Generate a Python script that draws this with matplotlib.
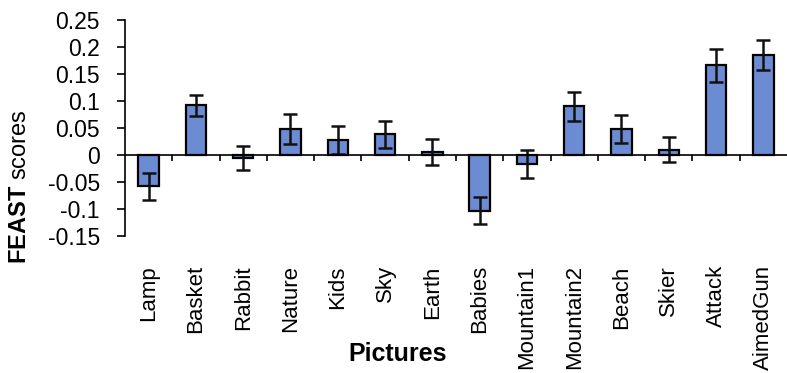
import numpy as np
import matplotlib.pyplot as plt

plt.rcParams['font.family'] = ['Liberation Sans', 'DejaVu Sans']
plt.rcParams['mathtext.fontset'] = 'custom'
plt.rcParams['mathtext.bf'] = 'Liberation Sans:bold'
plt.rcParams['mathtext.rm'] = 'Liberation Sans'

pictures = ['Lamp', 'Basket', 'Rabbit', 'Nature', 'Kids', 'Sky', 'Earth',
            'Babies', 'Mountain1', 'Mountain2', 'Beach', 'Skier', 'Attack',
            'AimedGun']
scores = [-0.058, 0.092, -0.006, 0.048, 0.028, 0.038, 0.005,
          -0.103, -0.016, 0.090, 0.048, 0.010, 0.166, 0.185]
errors = [0.025, 0.019, 0.022, 0.027, 0.026, 0.025, 0.024,
          0.025, 0.026, 0.027, 0.026, 0.023, 0.030, 0.028]
yticks = [-0.15, -0.1, -0.05, 0, 0.05, 0.1, 0.15, 0.2, 0.25]

fig = plt.figure(figsize=(7.87, 3.73), dpi=100)
ax = fig.add_axes([0.1588, 0.3673, 0.8412, 0.5791])

x = np.arange(len(pictures))
ax.bar(x, scores, width=0.43, color='#6b8bd3', edgecolor='black',
       linewidth=1.6, zorder=2)
ax.errorbar(x, scores, yerr=errors, fmt='none', ecolor='#111111',
            elinewidth=1.8, capsize=5, capthick=1.8, zorder=3)

# zero line with small ticks between categories
ax.axhline(0, color='black', linewidth=1.2, zorder=4)
ax.vlines(x[:-1] + 0.5, -0.011, 0, color='black', linewidth=1.2, zorder=4)

ax.set_xlim(-0.5, len(pictures) - 0.5)
ax.set_ylim(-0.15, 0.25)
ax.set_yticks(yticks)
ax.set_yticklabels([f'{v:g}' for v in yticks], fontsize=16.5)
ax.tick_params(axis='y', length=6, width=1.2, pad=12)

ax.set_xticks(x)
ax.set_xticklabels(pictures, rotation=90, fontsize=16)
ax.tick_params(axis='x', length=0, pad=21)

for s in ['top', 'right', 'bottom']:
    ax.spines[s].set_visible(False)
ax.spines['left'].set_linewidth(1.2)

fig.text(0.505, 0.05, 'Pictures', fontsize=18, fontweight='bold',
         ha='center', va='center')
fig.text(0.026, 0.5, r'$\mathbf{FEAST}$ scores', fontsize=17,
         rotation=90, ha='center', va='center')

fig.savefig('out.png', dpi=100)
